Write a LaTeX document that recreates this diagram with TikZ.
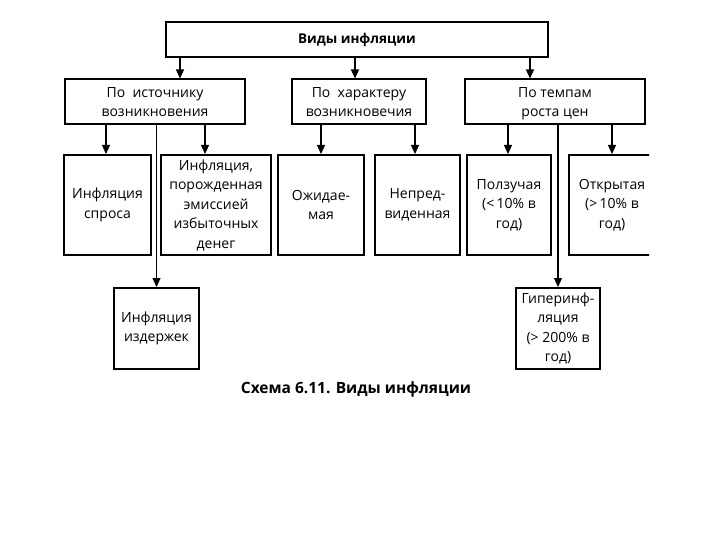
\documentclass[tikz,border=0pt]{standalone}
\usepackage{fontspec}
\setmainfont{Open Sans}
\usetikzlibrary{arrows.meta}
\tikzset{
  box/.style={draw=black, line width=2pt, inner sep=0pt, align=center,
    font=\fontsize{14}{19.5}\selectfont},
  hbox/.style={box, minimum height=45pt, text depth=0pt},
  arr/.style={line width=1.1pt, -{Triangle[length=9pt,width=8pt]}}
}
\begin{document}
\begin{tikzpicture}[x=1pt,y=-1pt]
\useasboundingbox (0,0) rectangle (720,540);
% top
\node[box, minimum width=382pt, minimum height=35pt, font=\fontsize{13.5}{19.5}\selectfont\bfseries] (top) at (357,39.5) {Виды инфляции};
% level 2
\node[hbox, minimum width=180pt] (p1) at (155,102) {По\ \ источнику\\возникновения};
\node[hbox, minimum width=134pt] (p2) at (359,102) {По\ \ характеру\\возникновечия};
\node[hbox, minimum width=180pt] (p3) at (555,102) {По темпам\\роста цен};
% level 3
\node[box, minimum width=87pt, minimum height=100pt] (a) at (107.5,205) {Инфляция\\спроса};
\node[box, minimum width=110pt, minimum height=100pt] (b) at (216,205) {Инфляция,\\порожденная\\эмиссией\\избыточных\\денег};
\node[box, minimum width=86pt, minimum height=100pt] (c) at (321,205) {Ожидае-\\мая};
\node[box, minimum width=85pt, minimum height=100pt] (d) at (417.5,205) {Непред-\\виденная};
\node[box, minimum width=84pt, minimum height=100pt] (e) at (509,205) {Ползучая\\(<\,10\% в\\год)};
\begin{scope}
\clip (0,0) rectangle (649,540);
\node[box, minimum width=86pt, minimum height=100pt] (f) at (612,205) {Открытая\\(>\,10\% в\\год)};
\end{scope}
% level 4
\node[box, minimum width=85pt, minimum height=81pt] (g) at (156.5,328.5) {Инфляция\\издержек};
\node[box, minimum width=84pt, minimum height=81pt] (h) at (558,328.5) {Гиперинф-\\ляция\\(> 200\% в\\год)};
% caption
\node[font=\fontsize{15.5}{18}\selectfont\bfseries] (cap) at (356,389) {Схема 6.11. Виды инфляции};
% arrow x positions
\coordinate (x1) at (180,0);
\coordinate (x2) at (355,0);
\coordinate (x3) at (530,0);
\coordinate (xa) at (106,0);
\coordinate (xb) at (205,0);
\coordinate (xc) at (321,0);
\coordinate (xd) at (415,0);
\coordinate (xe) at (508,0);
\coordinate (xf) at (612,0);
\draw[arr] (top.south -| x1) -- (p1.north -| x1);
\draw[arr] (top.south -| x2) -- (p2.north -| x2);
\draw[arr] (top.south -| x3) -- (p3.north -| x3);
\draw[arr] (p1.south -| xa) -- (a.north -| xa);
\draw[arr] (p1.south -| xb) -- (b.north -| xb);
\draw[arr] (p1.south -| g) -- (g.north);
\draw[arr] (p2.south -| xc) -- (c.north -| xc);
\draw[arr] (p2.south -| xd) -- (d.north -| xd);
\draw[arr] (p3.south -| xe) -- (e.north -| xe);
\draw[arr] (p3.south -| xf) -- (f.north -| xf);
\draw[arr] (p3.south -| h) -- (h.north);
\end{tikzpicture}
\end{document}
